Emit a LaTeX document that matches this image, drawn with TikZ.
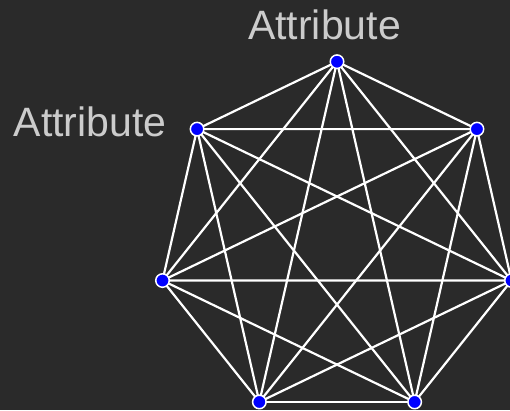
\documentclass[tikz,border=0pt]{standalone}
\usepackage{fontspec}
\setmainfont{Liberation Sans}
\usetikzlibrary{backgrounds}
\definecolor{bgdark}{RGB}{42,42,42}
\definecolor{labelgrey}{RGB}{204,204,204}
\definecolor{vertblue}{RGB}{0,0,255}
\tikzset{
  vert/.style={circle,fill=vertblue,draw=white,line width=1.5pt,inner sep=0pt,minimum size=13.5pt},
  edge/.style={draw=white,line width=2.2pt},
  attr/.style={text=labelgrey,anchor=base,inner sep=0pt,font=\fontsize{41}{48}\selectfont}
}
\begin{document}
\begin{tikzpicture}[x=1pt,y=-1pt]
\useasboundingbox (0,0) rectangle (510,410);
% vertices of the heptagon
\foreach \i in {0,...,6}{\node[vert] (v\i) at ({337+179*sin(\i*360/7)},{240.7-179*cos(\i*360/7)}) {};}
\node[attr] (lbltop) at (324.5,39) {Attribute};
\node[attr] (lblleft) at (90,136) {Attribute};
\begin{pgfonlayer}{background}
\fill[bgdark] (0,0) rectangle (510,410);
% every pair joined
\foreach \i in {0,...,5}{
  \pgfmathtruncatemacro\s{\i+1}
  \foreach \j in {\s,...,6}{\draw[edge] (v\i.center) -- (v\j.center);}
}
\end{pgfonlayer}
\end{tikzpicture}
\end{document}
